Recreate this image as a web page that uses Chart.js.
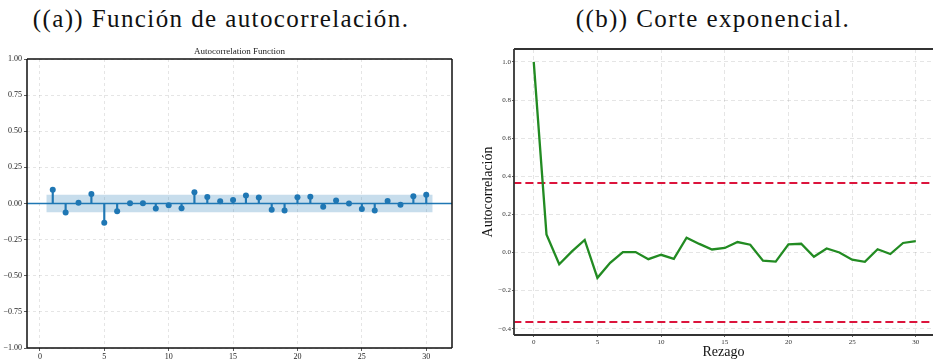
<!DOCTYPE html>
<html>
<head>
<meta charset="utf-8">
<script src="https://cdn.jsdelivr.net/npm/chart.js@4.4.1/dist/chart.umd.min.js"></script>
<style>
  html, body { margin:0; padding:0; background:#fff; }
  body { width:933px; height:361px; position:relative; overflow:hidden; }
  .cap { position:absolute; top:4px; width:500px; text-align:center; font-family:"Liberation Serif", serif; font-size:25px; line-height:30px; letter-spacing:1.4px; color:#111; white-space:nowrap; }
  .box { position:absolute; top:0; height:361px; }
</style>
</head>
<body>
<div class="cap" style="left:-29px">((a)) Función de autocorrelación.</div>
<div class="cap" style="left:463px">((b)) Corte exponencial.</div>
<div class="box" style="left:0;width:466px"><canvas id="acf" width="466" height="361"></canvas></div>
<div class="box" style="left:466px;width:467px"><canvas id="cut" width="467" height="361"></canvas></div>
<script>
// lags and autocorrelation values
const lags = [1,2,3,4,5,6,7,8,9,10,11,12,13,14,15,16,17,18,19,20,21,22,23,24,25,26,27,28,29,30];
const acfValues = [0.095,-0.062,0.006,0.066,-0.133,-0.054,0.002,0.002,-0.035,-0.012,-0.033,0.078,0.045,0.016,0.024,0.055,0.041,-0.043,-0.048,0.043,0.046,-0.022,0.021,0.000,-0.038,-0.049,0.017,-0.008,0.050,0.060];
const confBound = 0.061;          // statsmodels band (+/-)
const bandEdges = [0.5, 30.5];
const cutLags = [0].concat(lags);
const cutValues = [1.0].concat(acfValues);
const cutLimit = 0.365;           // dashed red limits
const xTicks = [0,5,10,15,20,25,30];
const acfYTicks = [-1,-0.75,-0.5,-0.25,0,0.25,0.5,0.75,1];
const cutYTicks = [-0.4,-0.2,0,0.2,0.4,0.6,0.8,1.0];

const C0 = "#1f77b4";
const serif = "'Liberation Serif', 'Times New Roman', serif";
const minus = (s)=>s.replace("-", "\u2212");

const framePlugin = (color, width, sides)=>({
  id: "frame",
  afterDatasetsDraw(chart){
    const {ctx, chartArea:a} = chart;
    ctx.save();
    ctx.strokeStyle = color;
    ctx.lineWidth = width;
    ctx.beginPath();
    if(sides.includes("t")){ ctx.moveTo(a.left, a.top); ctx.lineTo(a.right, a.top); }
    if(sides.includes("r")){ ctx.moveTo(a.right, a.top); ctx.lineTo(a.right, a.bottom); }
    if(sides.includes("b")){ ctx.moveTo(a.left, a.bottom); ctx.lineTo(a.right, a.bottom); }
    if(sides.includes("l")){ ctx.moveTo(a.left, a.top); ctx.lineTo(a.left, a.bottom); }
    ctx.stroke();
    ctx.restore();
  }
});

const gridOpts = {
  color: "rgba(0,0,0,0.13)",
  lineWidth: 0.8,
  tickColor: "#333",
  tickBorderDash: [],
  tickLength: 3,
  offset: false
};

// ---- (a) autocorrelation function ----
new Chart(document.getElementById("acf"), {
  type: "bar",
  data: {
    datasets: [
      {
        type: "scatter",
        data: lags.map((l,i)=>({x:l, y:acfValues[i]})),
        backgroundColor: C0, borderColor: C0, borderWidth: 0,
        pointRadius: 3, order: 0
      },
      {
        type: "bar",
        data: lags.map((l,i)=>({x:l, y:acfValues[i]})),
        backgroundColor: C0, borderWidth: 0,
        barThickness: 1.5, order: 1
      },
      {
        type: "line",
        data: [{x:-1, y:0}, {x:32, y:0}],
        borderColor: C0, borderWidth: 1.6, pointRadius: 0, order: 2
      },
      {
        type: "line",
        data: bandEdges.map(x=>({x, y:confBound})),
        borderWidth: 0, pointRadius: 0,
        backgroundColor: "rgba(31,119,180,0.25)",
        fill: "+1", order: 3
      },
      {
        type: "line",
        data: bandEdges.map(x=>({x, y:-confBound})),
        borderWidth: 0, pointRadius: 0, order: 4
      }
    ]
  },
  options: {
    responsive: false,
    animation: false,
    devicePixelRatio: 1,
    layout: { padding: { left: 0, right: 14, top: 0, bottom: 0 } },
    plugins: {
      legend: { display: false },
      tooltip: { enabled: false },
      title: {
        display: true, text: "Autocorrelation Function", fullSize: false,
        color: "#222", font: { family: serif, size: 9, weight: "normal" },
        padding: { top: 46, bottom: 2.2 }
      }
    },
    scales: {
      x: {
        type: "linear", min: -1, max: 32, offset: false,
        afterBuildTicks: s=>{ s.ticks = xTicks.map(v=>({value:v})); },
        afterFit: s=>{ s.height = 13; },
        grid: gridOpts,
        border: { display: false, dash: [3,3] },
        ticks: { font: { family: serif, size: 8 }, color: "#222", padding: 1, maxRotation: 0 }
      },
      y: {
        min: -1, max: 1,
        afterBuildTicks: s=>{ s.ticks = acfYTicks.map(v=>({value:v})); },
        afterFit: s=>{ s.width = 27; },
        grid: gridOpts,
        border: { display: false, dash: [3,3] },
        ticks: { font: { family: serif, size: 8 }, color: "#222", padding: 2,
                 callback: v=>minus(v.toFixed(2)) }
      }
    }
  },
  plugins: [framePlugin("#111", 1.5, "trbl")]
});

// ---- (b) exponential cut ----
new Chart(document.getElementById("cut"), {
  type: "line",
  data: {
    datasets: [
      {
        data: cutLags.map((l,i)=>({x:l, y:cutValues[i]})),
        borderColor: "#228b22", borderWidth: 2.3, pointRadius: 0,
        tension: 0, order: 0
      },
      {
        data: [{x:-1.6, y:cutLimit}, {x:31.4, y:cutLimit}],
        borderColor: "#dc143c", borderWidth: 2, borderDash: [8,4],
        pointRadius: 0, order: 1
      },
      {
        data: [{x:-1.6, y:-cutLimit}, {x:31.4, y:-cutLimit}],
        borderColor: "#dc143c", borderWidth: 2, borderDash: [8,4],
        pointRadius: 0, order: 2
      }
    ]
  },
  options: {
    responsive: false,
    animation: false,
    devicePixelRatio: 1,
    layout: { padding: { left: 0, right: 0, top: 49, bottom: 0 } },
    plugins: { legend: { display: false }, tooltip: { enabled: false } },
    scales: {
      x: {
        type: "linear", min: -1.55, max: 31.35,
        afterBuildTicks: s=>{ s.ticks = xTicks.map(v=>({value:v})); },
        afterFit: s=>{ s.height = 26; },
        grid: Object.assign({}, gridOpts, { tickLength: 2 }),
        border: { display: false, dash: [4,3] },
        ticks: { font: { family: serif, size: 7 }, color: "#333", padding: 1, maxRotation: 0 },
        title: { display: true, text: "Rezago", color: "#111",
                 font: { family: serif, size: 14 }, padding: { top: 0, bottom: 0 } }
      },
      y: {
        min: -0.433, max: 1.068,
        afterBuildTicks: s=>{ s.ticks = cutYTicks.map(v=>({value:v})); },
        afterFit: s=>{ s.width = 48; },
        grid: Object.assign({}, gridOpts, { tickLength: 2 }),
        border: { display: false, dash: [4,3] },
        ticks: { font: { family: serif, size: 7 }, color: "#333", padding: 1,
                 callback: v=>minus(v.toFixed(1)) },
        title: { display: true, text: "Autocorrelación", color: "#111",
                 font: { family: serif, size: 14 }, padding: { top: 14, bottom: 0 } }
      }
    }
  },
  plugins: [framePlugin("#333", 1.8, "tbl")]
});
</script>
</body>
</html>
